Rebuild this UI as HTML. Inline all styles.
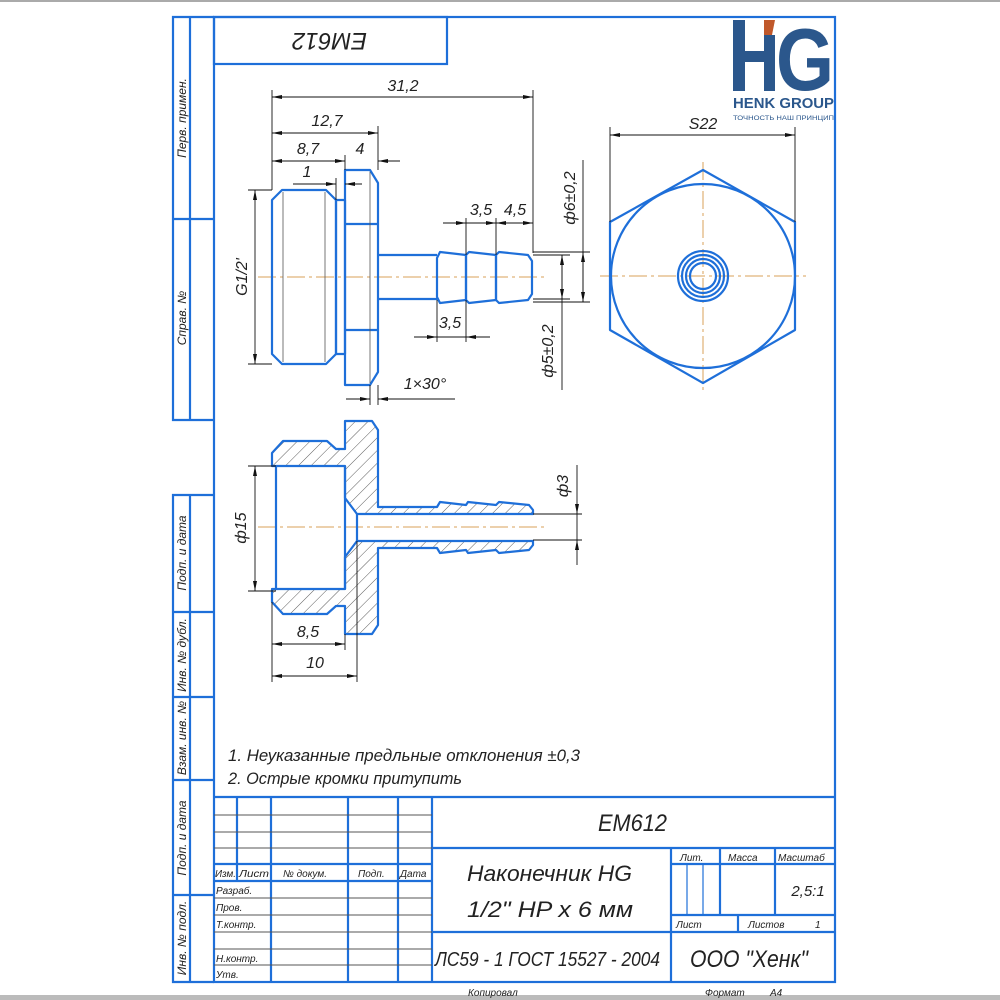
<!DOCTYPE html>
<html><head><meta charset="utf-8"><style>
html,body{margin:0;padding:0;background:#fff}
svg{display:block}
text{font-family:"Liberation Sans",sans-serif;font-style:italic;fill:#222}
</style></head><body>
<svg width="1000" height="1000" viewBox="0 0 1000 1000" xmlns="http://www.w3.org/2000/svg">
<defs>
<pattern id="h" width="9" height="9" patternUnits="userSpaceOnUse" patternTransform="rotate(45)">
<line x1="0" y1="0" x2="0" y2="9" stroke="#333" stroke-width="0.8"/>
</pattern>
<marker id="a" viewBox="0 0 10 4" refX="10" refY="2" markerWidth="10" markerHeight="4" orient="auto-start-reverse" markerUnits="userSpaceOnUse"><path d="M0,0 L10,2 L0,4Z" fill="#111"/></marker>
</defs>
<rect x="0" y="0" width="1000" height="2" fill="#aaa"/>
<rect x="0" y="995" width="1000" height="5" fill="#bbb"/>

<g stroke="#1e6fd9" stroke-width="2.2" fill="none">
<rect x="214" y="17" width="621" height="965"/>
<rect x="214" y="17" width="233" height="47"/>
<polyline points="214,17 173,17 173,420 214,420"/>
<line x1="190" y1="17" x2="190" y2="420"/>
<line x1="173" y1="219" x2="214" y2="219"/>
<polyline points="214,495 173,495 173,982 214,982"/>
<line x1="190" y1="495" x2="190" y2="982"/>
<line x1="173" y1="612" x2="214" y2="612"/>
<line x1="173" y1="697" x2="214" y2="697"/>
<line x1="173" y1="780" x2="214" y2="780"/>
<line x1="173" y1="895" x2="214" y2="895"/>
<line x1="214" y1="797" x2="835" y2="797"/>
<line x1="237" y1="797" x2="237" y2="881"/>
<line x1="271" y1="797" x2="271" y2="982"/>
<line x1="348" y1="797" x2="348" y2="982"/>
<line x1="398" y1="797" x2="398" y2="982"/>
<line x1="432" y1="797" x2="432" y2="982"/>
<line x1="214" y1="864" x2="432" y2="864"/>
<line x1="214" y1="881" x2="432" y2="881"/>
<line x1="432" y1="848" x2="835" y2="848"/>
<line x1="432" y1="932" x2="835" y2="932"/>
<line x1="671" y1="848" x2="671" y2="982"/>
<line x1="671" y1="864" x2="835" y2="864"/>
<line x1="671" y1="915" x2="835" y2="915"/>
<line x1="720" y1="848" x2="720" y2="915"/>
<line x1="775" y1="848" x2="775" y2="915"/>
<line x1="738" y1="915" x2="738" y2="932"/>
<line x1="687" y1="864" x2="687" y2="915" stroke-width="1.2"/>
<line x1="703" y1="864" x2="703" y2="915" stroke-width="1.2"/>
</g>
<g stroke="#555" stroke-width="1">
<line x1="214" y1="815" x2="432" y2="815"/>
<line x1="214" y1="832" x2="432" y2="832"/>
<line x1="214" y1="848" x2="432" y2="848"/>
<line x1="214" y1="898" x2="432" y2="898"/>
<line x1="214" y1="915" x2="432" y2="915"/>
<line x1="214" y1="932" x2="432" y2="932"/>
<line x1="214" y1="949" x2="432" y2="949"/>
<line x1="214" y1="965" x2="432" y2="965"/>
</g>

<g font-size="12">
<text transform="translate(186,118) rotate(-90)" text-anchor="middle">Перв. примен.</text>
<text transform="translate(186,318) rotate(-90)" text-anchor="middle">Справ. №</text>
<text transform="translate(186,553) rotate(-90)" text-anchor="middle">Подп. и дата</text>
<text transform="translate(186,655) rotate(-90)" text-anchor="middle">Инв. № дубл.</text>
<text transform="translate(186,738) rotate(-90)" text-anchor="middle">Взам. инв. №</text>
<text transform="translate(186,838) rotate(-90)" text-anchor="middle">Подп. и дата</text>
<text transform="translate(186,938) rotate(-90)" text-anchor="middle">Инв. № подл.</text>
</g>
<text transform="translate(367,33) rotate(180)" font-size="24" textLength="75" lengthAdjust="spacingAndGlyphs">EM612</text>

<g font-size="10">
<text x="215" y="877" textLength="21" lengthAdjust="spacingAndGlyphs">Изм.</text><text x="239" y="877" textLength="30" lengthAdjust="spacingAndGlyphs">Лист</text><text x="283" y="877">№ докум.</text>
<text x="358" y="877">Подп.</text><text x="400" y="877">Дата</text>
<text x="216" y="894">Разраб.</text><text x="216" y="911">Пров.</text><text x="216" y="928">Т.контр.</text>
<text x="216" y="962">Н.контр.</text><text x="216" y="978">Утв.</text>
<text x="680" y="861">Лит.</text><text x="728" y="861">Масса</text><text x="778" y="861">Масштаб</text>
<text x="676" y="928">Лист</text><text x="748" y="928">Листов</text><text x="815" y="928">1</text>
<text x="468" y="996">Копировал</text><text x="705" y="996">Формат</text><text x="770" y="996">А4</text>
</g>
<text x="598" y="831" font-size="24" textLength="69" lengthAdjust="spacingAndGlyphs">EM612</text>
<text x="467" y="881" font-size="22" textLength="165" lengthAdjust="spacingAndGlyphs">Наконечник HG</text>
<text x="467" y="917" font-size="22" textLength="166" lengthAdjust="spacingAndGlyphs">1/2" HP x 6 мм</text>
<text x="435" y="966" font-size="20" textLength="225" lengthAdjust="spacingAndGlyphs">ЛС59 - 1 ГОСТ 15527 - 2004</text>
<text x="690" y="967" font-size="24" textLength="118" lengthAdjust="spacingAndGlyphs">ООО "Хенк"</text>
<text x="808" y="896" font-size="15" text-anchor="middle">2,5:1</text>

<text x="228" y="761" font-size="17" textLength="352" lengthAdjust="spacingAndGlyphs">1. Неуказанные предльные отклонения ±0,3</text>
<text x="228" y="784" font-size="17" textLength="234" lengthAdjust="spacingAndGlyphs">2. Острые кромки притупить</text>

<rect x="733" y="20" width="12" height="71" fill="#2b578c"/>
<rect x="733" y="51" width="42" height="11" fill="#2b578c"/>
<rect x="764" y="35" width="11" height="56" fill="#2b578c"/>
<polygon points="764,20 775,20 772,35 764,35" fill="#c0582a"/>
<text x="776" y="90" font-size="88" font-weight="bold" style="fill:#2b578c;font-style:normal" textLength="58" lengthAdjust="spacingAndGlyphs">G</text>
<text x="733" y="108" font-size="14.5" font-weight="bold" style="fill:#2b578c;font-style:normal" textLength="101" lengthAdjust="spacingAndGlyphs">HENK GROUP</text>
<text x="733" y="120" font-size="6.5" style="fill:#2b578c;font-style:normal" textLength="101" lengthAdjust="spacingAndGlyphs">ТОЧНОСТЬ НАШ ПРИНЦИП</text>

<g stroke="#d9a25a" stroke-width="1" stroke-dasharray="18,4,3,4">
<line x1="258" y1="277" x2="545" y2="277"/>
<line x1="600" y1="276" x2="806" y2="276"/>
<line x1="703" y1="162" x2="703" y2="392"/>
<line x1="258" y1="527" x2="545" y2="527"/>
</g>
<g stroke="#1e6fd9" stroke-width="2.2" fill="none" stroke-linejoin="round">
<polygon points="282,190 326,190 336,200 336,354 326,364 282,364 272,354 272,200"/>
<rect x="336" y="200" width="9" height="154"/>
<polygon points="345,170 370,170 378,183 378,372 370,385 345,385"/>
<line x1="345" y1="224" x2="378" y2="224"/>
<line x1="345" y1="330" x2="378" y2="330"/>
<polyline points="378,255 437,255"/><polyline points="378,299 437,299"/>
<polygon points="437,258 440,252 466,255 466,300 440,303 437,297"/>
<polygon points="466,255 469,252 496,255 496,300 469,303 466,300"/>
<polygon points="496,255 499,252 528,255 532,261 532,294 528,300 499,303 496,300"/>
<polygon points="703,170 795,222 795,330 703,383 610,330 610,222"/>
<circle cx="703" cy="276" r="92"/>
<circle cx="703" cy="276" r="25"/><circle cx="703" cy="276" r="21"/>
<circle cx="703" cy="276" r="17"/><circle cx="703" cy="276" r="13"/>
</g>
<g stroke="#555" stroke-width="0.8">
<line x1="283" y1="192" x2="283" y2="362"/><line x1="325" y1="192" x2="325" y2="362"/>
<line x1="370" y1="172" x2="370" y2="383"/>
</g>

<g stroke="#111" stroke-width="0.9" fill="none">
<line x1="272" y1="90" x2="272" y2="190"/><line x1="533" y1="90" x2="533" y2="253"/>
<line x1="272" y1="97" x2="533" y2="97" marker-start="url(#a)" marker-end="url(#a)"/>
<line x1="378" y1="126" x2="378" y2="170"/>
<line x1="272" y1="133" x2="378" y2="133" marker-start="url(#a)" marker-end="url(#a)"/>
<line x1="345" y1="155" x2="345" y2="170"/>
<line x1="272" y1="161" x2="345" y2="161" marker-start="url(#a)" marker-end="url(#a)"/>
<line x1="400" y1="161" x2="378" y2="161" marker-end="url(#a)"/>
<line x1="336" y1="178" x2="336" y2="200"/>
<line x1="293" y1="184" x2="336" y2="184" marker-end="url(#a)"/>
<line x1="362" y1="184" x2="345" y2="184" marker-end="url(#a)"/>
<line x1="248" y1="190" x2="272" y2="190"/><line x1="248" y1="364" x2="272" y2="364"/>
<line x1="255" y1="190" x2="255" y2="364" marker-start="url(#a)" marker-end="url(#a)"/>
<line x1="466" y1="218" x2="466" y2="255"/><line x1="496" y1="218" x2="496" y2="255"/>
<line x1="443" y1="223" x2="466" y2="223" marker-end="url(#a)"/>
<line x1="466" y1="223" x2="496" y2="223" marker-end="url(#a)"/>
<line x1="496" y1="223" x2="533" y2="223" marker-start="url(#a)" marker-end="url(#a)"/>
<line x1="533" y1="252" x2="590" y2="252"/><line x1="533" y1="302" x2="590" y2="302"/>
<line x1="583" y1="160" x2="583" y2="302"/>
<line x1="583" y1="252" x2="583" y2="302" marker-start="url(#a)" marker-end="url(#a)"/>
<line x1="533" y1="255" x2="570" y2="255"/><line x1="533" y1="299" x2="570" y2="299"/>
<line x1="562" y1="255" x2="562" y2="390"/>
<line x1="562" y1="255" x2="562" y2="299" marker-start="url(#a)" marker-end="url(#a)"/>
<line x1="437" y1="300" x2="437" y2="342"/><line x1="466" y1="300" x2="466" y2="342"/>
<line x1="414" y1="337" x2="437" y2="337" marker-end="url(#a)"/>
<line x1="490" y1="337" x2="466" y2="337" marker-end="url(#a)"/>
<line x1="437" y1="337" x2="466" y2="337"/>
<line x1="370" y1="385" x2="370" y2="405"/><line x1="378" y1="385" x2="378" y2="405"/>
<line x1="346" y1="399" x2="370" y2="399" marker-end="url(#a)"/>
<line x1="455" y1="399" x2="378" y2="399" marker-end="url(#a)"/>
<line x1="610" y1="127" x2="610" y2="222"/><line x1="795" y1="127" x2="795" y2="222"/>
<line x1="610" y1="135" x2="795" y2="135" marker-start="url(#a)" marker-end="url(#a)"/>
</g>
<g font-size="16">
<text x="403" y="91" text-anchor="middle">31,2</text>
<text x="327" y="126" text-anchor="middle">12,7</text>
<text x="308" y="154" text-anchor="middle">8,7</text>
<text x="360" y="154" text-anchor="middle">4</text>
<text x="307" y="177" text-anchor="middle">1</text>
<text x="481" y="215" text-anchor="middle">3,5</text>
<text x="515" y="215" text-anchor="middle">4,5</text>
<text x="450" y="328" text-anchor="middle">3,5</text>
<text x="425" y="389" text-anchor="middle">1×30°</text>
<text x="703" y="129" text-anchor="middle">S22</text>
<text transform="translate(247,277) rotate(-90)" text-anchor="middle">G1/2'</text>
<text transform="translate(575,198) rotate(-90)" text-anchor="middle">ф6±0,2</text>
<text transform="translate(553,351) rotate(-90)" text-anchor="middle">ф5±0,2</text>
<text transform="translate(246,528) rotate(-90)" text-anchor="middle">ф15</text>
<text transform="translate(568,486) rotate(-90)" text-anchor="middle">ф3</text>
<text x="308" y="637" text-anchor="middle">8,5</text>
<text x="315" y="668" text-anchor="middle">10</text>
</g>

<g stroke="#1e6fd9" stroke-width="2.2" fill="url(#h)" stroke-linejoin="round">
<polygon points="272,466 272,453 283,441 327,441 336,449 345,449 345,421 372,421 378,430 378,507 437,507 440,502 466,505 468,502 496,505 499,502 529,505 533,510 533,514 357,514 345,498 345,466"/>
<polygon points="272,589 272,602 283,614 327,614 336,606 345,606 345,634 372,634 378,625 378,548 437,548 440,553 466,550 468,553 496,550 499,553 529,550 533,545 533,541 357,541 345,557 345,589"/>
</g>
<g stroke="#1e6fd9" stroke-width="2.2" fill="none">
<line x1="276" y1="466" x2="276" y2="589"/>
<line x1="345" y1="466" x2="345" y2="589"/>
<line x1="357" y1="514" x2="357" y2="541"/>
</g>
<g stroke="#111" stroke-width="0.9" fill="none">
<line x1="248" y1="466" x2="276" y2="466"/><line x1="248" y1="591" x2="276" y2="591"/>
<line x1="255" y1="466" x2="255" y2="591" marker-start="url(#a)" marker-end="url(#a)"/>
<line x1="533" y1="514" x2="582" y2="514"/><line x1="533" y1="540" x2="582" y2="540"/>
<line x1="577" y1="465" x2="577" y2="514" marker-end="url(#a)"/>
<line x1="577" y1="565" x2="577" y2="540" marker-end="url(#a)"/>
<line x1="577" y1="514" x2="577" y2="540"/>
<line x1="272" y1="602" x2="272" y2="682"/>
<line x1="345" y1="634" x2="345" y2="650"/>
<line x1="357" y1="541" x2="357" y2="682"/>
<line x1="272" y1="644" x2="345" y2="644" marker-start="url(#a)" marker-end="url(#a)"/>
<line x1="272" y1="676" x2="357" y2="676" marker-start="url(#a)" marker-end="url(#a)"/>
</g>
</svg>
</body></html>
